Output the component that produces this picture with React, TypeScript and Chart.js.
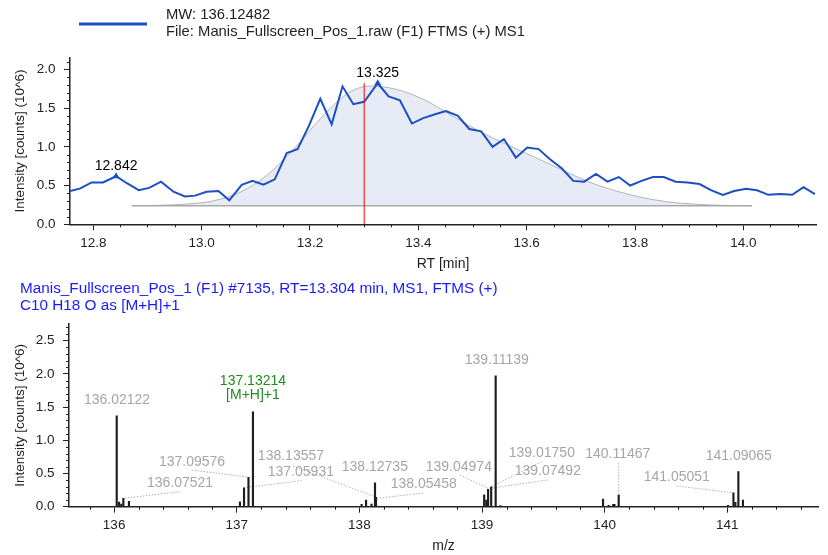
import React, { useEffect, useRef } from "react";
import { Chart, registerables } from "chart.js";
Chart.register(...registerables);

const FONT = "'Liberation Sans', Arial, Helvetica, sans-serif";
const BLUE = "#1c4fc3";
const AXIS = "#222222";

// ---------- Chromatogram (top) ----------
const legendLines = ["MW: 136.12482", "File: Manis_Fullscreen_Pos_1.raw (F1) FTMS (+) MS1"];
const rtTimes = [12.757, 12.775, 12.797, 12.818, 12.842, 12.862, 12.884, 12.903, 12.925, 12.948, 12.969, 12.988, 13.009, 13.031, 13.051, 13.074, 13.094, 13.114, 13.135, 13.157, 13.177, 13.198, 13.219, 13.24, 13.26, 13.28, 13.3, 13.325, 13.345, 13.366, 13.388, 13.409, 13.431, 13.451, 13.473, 13.494, 13.516, 13.537, 13.558, 13.58, 13.601, 13.622, 13.643, 13.665, 13.686, 13.706, 13.728, 13.749, 13.77, 13.791, 13.812, 13.833, 13.853, 13.875, 13.897, 13.919, 13.94, 13.962, 13.983, 14.005, 14.025, 14.046, 14.068, 14.09, 14.111, 14.132];
const rtIntensity = [0.43, 0.46, 0.54, 0.54, 0.62, 0.53, 0.44, 0.47, 0.55, 0.42, 0.36, 0.37, 0.42, 0.43, 0.31, 0.51, 0.56, 0.51, 0.58, 0.92, 0.97, 1.27, 1.62, 1.29, 1.78, 1.55, 1.58, 1.82, 1.65, 1.6, 1.3, 1.37, 1.42, 1.46, 1.4, 1.23, 1.2, 1.0, 1.1, 0.86, 0.99, 0.97, 0.84, 0.72, 0.56, 0.55, 0.65, 0.55, 0.61, 0.5, 0.56, 0.61, 0.61, 0.55, 0.54, 0.52, 0.44, 0.38, 0.43, 0.46, 0.44, 0.38, 0.39, 0.38, 0.48, 0.39];
const fitTimes = [12.871, 12.92, 12.97, 13.02, 13.07, 13.12, 13.17, 13.22, 13.27, 13.31, 13.36, 13.41, 13.46, 13.51, 13.56, 13.61, 13.66, 13.71, 13.76, 13.81, 13.86, 13.91, 13.96, 14.016];
const fitIntensity = [0.24, 0.245, 0.26, 0.3, 0.41, 0.63, 0.97, 1.37, 1.69, 1.785, 1.74, 1.61, 1.41, 1.21, 1.04, 0.88, 0.72, 0.56, 0.44, 0.35, 0.29, 0.26, 0.245, 0.24];
const fitBaseline = 0.24;
const baselineTimes = [12.871, 14.016];
const peakLabels = ["12.842", "13.325"];
const peakTimes = [12.842, 13.325];
const peakIntensity = [0.62, 1.82];
const scanRT = 13.3;
const scanLineTop = 1.82;
const rtTicks = [12.8, 13.0, 13.2, 13.4, 13.6, 13.8, 14.0];
const topIntensityTicks = [0, 0.5, 1.0, 1.5, 2.0];
const rtRange = [12.757, 14.134];
const topIntensityMax = 2.15;

// ---------- Spectrum (bottom) ----------
const headerLines = ["Manis_Fullscreen_Pos_1 (F1) #7135, RT=13.304 min, MS1, FTMS (+)", "C10 H18 O as [M+H]+1"];
const mzValues = [136.02122, 136.04, 136.058, 136.07521, 136.121, 137.026, 137.05931, 137.09576, 137.13214, 138.018, 138.05458, 138.099, 138.12735, 138.13557, 139.0175, 139.035, 139.04974, 139.07492, 139.11139, 139.15, 139.987, 140.033, 140.07, 140.08, 140.11467, 141.006, 141.05051, 141.066, 141.09065, 141.128];
const mzIntensity = [1.37, 0.07, 0.04, 0.126, 0.08, 0.075, 0.286, 0.443, 1.43, 0.035, 0.1, 0.04, 0.36, 0.14, 0.18, 0.1, 0.26, 0.3, 1.97, 0.015, 0.116, 0.02, 0.035, 0.035, 0.176, 0.02, 0.21, 0.066, 0.53, 0.1];
const mzTicks = [136, 137, 138, 139, 140, 141];
const bottomIntensityTicks = [0, 0.5, 1.0, 1.5, 2.0, 2.5];
const mzRange = [135.632, 141.74];
const bottomIntensityMax = 2.75;

// label layout (data coordinates): text, anchor, optional leader line
type SpecLabel = { text: string; sub?: string; color: string; at: [number, number]; leader?: [number, number, number, number] };
const spectrumLabels: SpecLabel[] = [
  { text: "136.02122", color: "#a6a6a6", at: [136.024, 1.607] },
  { text: "137.13214", sub: "[M+H]+1", color: "#1e8c1e", at: [137.132, 1.892] },
  { text: "139.11139", color: "#a6a6a6", at: [139.121, 2.21] },
  { text: "137.09576", color: "#a6a6a6", at: [136.635, 0.673], leader: [136.632, 0.553, 137.097, 0.443] },
  { text: "136.07521", color: "#a6a6a6", at: [136.537, 0.357], leader: [136.537, 0.226, 136.075, 0.126] },
  { text: "138.13557", color: "#a6a6a6", at: [137.442, 0.764], leader: [137.458, 0.613, 138.143, 0.139] },
  { text: "137.05931", color: "#a6a6a6", at: [137.523, 0.523], leader: [137.529, 0.392, 137.059, 0.286] },
  { text: "138.12735", color: "#a6a6a6", at: [138.126, 0.598] },
  { text: "138.05458", color: "#a6a6a6", at: [138.525, 0.342], leader: [138.518, 0.206, 138.143, 0.124] },
  { text: "139.04974", color: "#a6a6a6", at: [138.811, 0.598], leader: [138.819, 0.477, 139.05, 0.277] },
  { text: "139.01750", color: "#a6a6a6", at: [139.488, 0.809], leader: [139.485, 0.678, 139.077, 0.301] },
  { text: "139.07492", color: "#a6a6a6", at: [139.537, 0.538], leader: [139.536, 0.402, 139.088, 0.282] },
  { text: "140.11467", color: "#a6a6a6", at: [140.107, 0.794], leader: [140.115, 0.658, 140.115, 0.176] },
  { text: "141.09065", color: "#a6a6a6", at: [141.094, 0.764] },
  { text: "141.05051", color: "#a6a6a6", at: [140.588, 0.447], leader: [140.585, 0.312, 141.044, 0.211] },
];

function minorValues(min: number, max: number, step: number, majors: number[]) {
  const out: number[] = [];
  const start = Math.ceil(min / step - 1e-9);
  const end = Math.floor(max / step + 1e-9);
  for (let i = start; i <= end; i++) {
    const v = +(i * step).toFixed(6);
    if (!majors.some((m) => Math.abs(m - v) < 1e-6)) out.push(v);
  }
  return out;
}

function drawMinorTicks(chart: any, xs: number[], ys: number[], len: number) {
  const { ctx, chartArea: a, scales } = chart;
  ctx.save();
  ctx.strokeStyle = AXIS;
  ctx.lineWidth = 1;
  ctx.beginPath();
  xs.forEach((v) => {
    const px = Math.round(scales.x.getPixelForValue(v)) + 0.5;
    ctx.moveTo(px, a.bottom);
    ctx.lineTo(px, a.bottom + len);
  });
  ys.forEach((v) => {
    const py = Math.round(scales.y.getPixelForValue(v)) + 0.5;
    ctx.moveTo(a.left, py);
    ctx.lineTo(a.left - len, py);
  });
  ctx.stroke();
  ctx.restore();
}

function axisCommon(ticks: number[], fmt: (v: number) => string, fitSize: number, horizontal: boolean, title: string, titlePad: any, titleSize: number) {
  return {
    type: "linear",
    offset: false,
    afterBuildTicks: (s: any) => {
      s.ticks = ticks.map((v) => ({ value: v }));
    },
    afterFit: (s: any) => {
      if (horizontal) s.height = fitSize;
      else s.width = fitSize;
    },
    ticks: {
      callback: (v: any) => fmt(Number(v)),
      font: { family: FONT, size: 13.5 },
      color: AXIS,
      padding: horizontal ? 4.5 : 8.5,
      maxRotation: 0,
      autoSkip: false,
      includeBounds: false,
    },
    grid: { drawOnChartArea: false, drawTicks: true, tickLength: 6, tickColor: AXIS, color: AXIS, offset: false },
    border: { display: true, color: AXIS, width: 1.5 },
    title: { display: true, text: title, font: { family: FONT, size: titleSize }, color: AXIS, padding: titlePad },
  };
}

function topConfig(): any {
  const minorX = minorValues(rtRange[0], rtRange[1], 0.05, rtTicks);
  const minorY = minorValues(0, topIntensityMax, 0.1, topIntensityTicks);
  const decor = {
    id: "topDecor",
    afterDraw(chart: any) {
      drawMinorTicks(chart, minorX, minorY, 3);
      const { ctx, scales } = chart;
      ctx.save();
      ctx.strokeStyle = BLUE;
      ctx.lineWidth = 3;
      ctx.beginPath();
      ctx.moveTo(79, 24);
      ctx.lineTo(147, 24);
      ctx.stroke();
      ctx.fillStyle = AXIS;
      ctx.font = `14.8px ${FONT}`;
      ctx.textBaseline = "middle";
      ctx.textAlign = "left";
      ctx.fillText(legendLines[0], 166, 15);
      ctx.fillText(legendLines[1], 166, 32);
      ctx.fillStyle = "#000";
      ctx.font = `14px ${FONT}`;
      ctx.textAlign = "center";
      peakTimes.forEach((t, i) => {
        const px = scales.x.getPixelForValue(t);
        const py = scales.y.getPixelForValue(peakIntensity[i]);
        ctx.fillText(peakLabels[i], px, py - 10);
      });
      ctx.restore();
    },
  };
  return {
    type: "line",
    data: {
      datasets: [
        {
          label: "markers",
          data: peakTimes.map((t, i) => ({ x: t, y: peakIntensity[i] })),
          showLine: false,
          pointStyle: "triangle",
          pointRadius: 4,
          pointBackgroundColor: BLUE,
          pointBorderWidth: 0,
          order: -2,
        },
        {
          label: "MW",
          data: rtTimes.map((t, i) => ({ x: t, y: rtIntensity[i] })),
          borderColor: BLUE,
          borderWidth: 2,
          pointRadius: 0,
          tension: 0,
          fill: false,
          order: 0,
        },
        {
          label: "scan",
          data: [
            { x: scanRT, y: 0 },
            { x: scanRT, y: scanLineTop },
          ],
          borderColor: "#ff0000",
          borderWidth: 1,
          pointRadius: 0,
          fill: false,
          order: -1,
        },
        {
          label: "baseline",
          data: baselineTimes.map((t) => ({ x: t, y: fitBaseline })),
          borderColor: "#a9a9a9",
          borderWidth: 1.5,
          pointRadius: 0,
          fill: false,
          order: 2,
        },
        {
          label: "fit",
          data: fitTimes.map((t, i) => ({ x: t, y: fitIntensity[i] })),
          borderColor: "#b4b4b4",
          borderWidth: 1,
          backgroundColor: "#e7ebf6",
          pointRadius: 0,
          cubicInterpolationMode: "monotone",
          fill: { value: fitBaseline },
          order: 3,
        },
      ],
    },
    options: {
      responsive: false,
      animation: false,
      devicePixelRatio: 1,
      layout: { padding: { left: 0, right: 12, top: 224.3 - topIntensityMax * 77.5, bottom: 0 } },
      plugins: { legend: { display: false }, tooltip: { enabled: false } },
      scales: {
        x: { ...axisCommon(rtTicks, (v) => v.toFixed(1), 50.7, true, "RT [min]", { top: 0, bottom: 2 }, 14), min: rtRange[0], max: rtRange[1] },
        y: { ...axisCommon(topIntensityTicks, (v) => v.toFixed(1), 70, false, "Intensity [counts] (10^6)", { top: 12, bottom: 0 }, 13.5), min: 0, max: topIntensityMax },
      },
    },
    plugins: [decor],
  };
}

function bottomConfig(): any {
  const minorX = minorValues(mzRange[0], mzRange[1], 0.2, mzTicks);
  const minorY = minorValues(0, bottomIntensityMax, 0.1, bottomIntensityTicks);
  const leaders = {
    id: "leaders",
    beforeDatasetsDraw(chart: any) {
      const { ctx, scales } = chart;
      ctx.save();
      ctx.strokeStyle = "#b0b0b0";
      ctx.lineWidth = 1;
      ctx.setLineDash([1.5, 1.5]);
      spectrumLabels.forEach((l) => {
        if (!l.leader) return;
        ctx.beginPath();
        ctx.moveTo(scales.x.getPixelForValue(l.leader[0]), scales.y.getPixelForValue(l.leader[1]));
        ctx.lineTo(scales.x.getPixelForValue(l.leader[2]), scales.y.getPixelForValue(l.leader[3]));
        ctx.stroke();
      });
      ctx.restore();
    },
    afterDraw(chart: any) {
      drawMinorTicks(chart, minorX, minorY, 3);
      const { ctx, scales } = chart;
      ctx.save();
      ctx.font = `15.3px ${FONT}`;
      ctx.textBaseline = "middle";
      ctx.textAlign = "left";
      ctx.fillStyle = "#1a1aff";
      ctx.fillText(headerLines[0], 20, 14);
      ctx.fillText(headerLines[1], 20, 30.5);
      ctx.font = `14px ${FONT}`;
      ctx.textAlign = "center";
      spectrumLabels.forEach((l) => {
        const px = scales.x.getPixelForValue(l.at[0]);
        const py = scales.y.getPixelForValue(l.at[1]);
        ctx.fillStyle = l.color;
        ctx.fillText(l.text, px, py);
        if (l.sub) ctx.fillText(l.sub, px, py + 14.5);
      });
      ctx.restore();
    },
  };
  return {
    type: "bar",
    data: {
      datasets: [
        {
          label: "spectrum",
          data: mzValues.map((m, i) => ({ x: m, y: mzIntensity[i] })),
          backgroundColor: "#1e1e1e",
          borderWidth: 0,
          barThickness: 1.5,
        },
      ],
    },
    options: {
      responsive: false,
      animation: false,
      devicePixelRatio: 1,
      layout: { padding: { left: 0, right: 10, top: 231.7 - bottomIntensityMax * 66.4, bottom: 0 } },
      plugins: { legend: { display: false }, tooltip: { enabled: false } },
      scales: {
        x: { ...axisCommon(mzTicks, (v) => String(Math.round(v)), 48.3, true, "m/z", { top: 0, bottom: 0 }, 14), min: mzRange[0], max: mzRange[1] },
        y: { ...axisCommon(bottomIntensityTicks, (v) => v.toFixed(1), 69, false, "Intensity [counts] (10^6)", { top: 12, bottom: 0 }, 13.5), min: 0, max: bottomIntensityMax },
      },
    },
    plugins: [leaders],
  };
}

export default function App() {
  const topRef = useRef<HTMLCanvasElement>(null);
  const botRef = useRef<HTMLCanvasElement>(null);
  useEffect(() => {
    document.body.style.margin = "0";
    const c1 = new Chart(topRef.current as HTMLCanvasElement, topConfig());
    const c2 = new Chart(botRef.current as HTMLCanvasElement, bottomConfig());
    return () => {
      c1.destroy();
      c2.destroy();
    };
  }, []);
  return (
    <div style={{ position: "relative", width: 828, height: 555, background: "#fff", overflow: "hidden" }}>
      <canvas ref={topRef} width={828} height={275} style={{ position: "absolute", left: 0, top: 0, width: 828, height: 275 }} />
      <canvas ref={botRef} width={828} height={280} style={{ position: "absolute", left: 0, top: 275, width: 828, height: 280 }} />
    </div>
  );
}
